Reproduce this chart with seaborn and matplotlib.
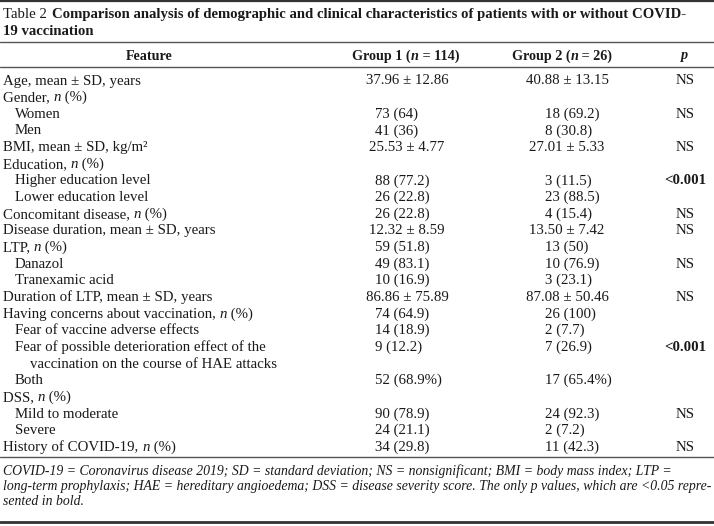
import matplotlib.pyplot as plt
import seaborn as sns

# table content ($...$ marks italic runs)
title_lead = "Table 2"
title_bold = ["Comparison analysis of demographic and clinical characteristics of patients with or without COVID-",
              "19 vaccination"]
headers = ["Feature", "Group 1 ($n$ = 114)", "Group 2 ($n$ = 26)", "$p$"]

features = [
    "Age, mean ± SD, years",
    "Gender, $n$ (%)",
    "Women",
    "Men",
    "BMI, mean ± SD, kg/m²",
    "Education, $n$ (%)",
    "Higher education level",
    "Lower education level",
    "Concomitant disease, $n$ (%)",
    "Disease duration, mean ± SD, years",
    "LTP, $n$ (%)",
    "Danazol",
    "Tranexamic acid",
    "Duration of LTP, mean ± SD, years",
    "Having concerns about vaccination, $n$ (%)",
    "Fear of vaccine adverse effects",
    "Fear of possible deterioration effect of the\nvaccination on the course of HAE attacks",
    "Both",
    "DSS, $n$ (%)",
    "Mild to moderate",
    "Severe",
    "History of COVID-19, $n$ (%)",
]
sub_item = [0, 0, 1, 1, 0, 0, 1, 1, 0, 0, 0, 1, 1, 0, 0, 1, 1, 1, 0, 1, 1, 0]
group1 = ["37.96 ± 12.86", "", "73 (64)", "41 (36)", "25.53 ± 4.77", "", "88 (77.2)", "26 (22.8)",
          "26 (22.8)", "12.32 ± 8.59", "59 (51.8)", "49 (83.1)", "10 (16.9)", "86.86 ± 75.89",
          "74 (64.9)", "14 (18.9)", "9 (12.2)", "52 (68.9%)", "", "90 (78.9)", "24 (21.1)", "34 (29.8)"]
group2 = ["40.88 ± 13.15", "", "18 (69.2)", "8 (30.8)", "27.01 ± 5.33", "", "3 (11.5)", "23 (88.5)",
          "4 (15.4)", "13.50 ± 7.42", "13 (50)", "10 (76.9)", "3 (23.1)", "87.08 ± 50.46",
          "26 (100)", "2 (7.7)", "7 (26.9)", "17 (65.4%)", "", "24 (92.3)", "2 (7.2)", "11 (42.3)"]
p_values = ["NS", "", "NS", "", "NS", "", "<0.001", "", "NS", "NS", "", "NS", "", "NS",
            "", "", "<0.001", "", "", "NS", "", "NS"]
footnote = ["COVID-19 = Coronavirus disease 2019; SD = standard deviation; NS = nonsignificant; BMI = body mass index; LTP =",
            "long-term prophylaxis; HAE = hereditary angioedema; DSS = disease severity score. The only p values, which are <0.05 repre-",
            "sented in bold."]

sns.set_theme(style="white", context="paper")
plt.rcParams["font.family"] = ["Liberation Serif", "DejaVu Serif"]

fig = plt.figure(figsize=(7.14, 5.26), dpi=100)
ax = fig.add_axes([0, 0, 1, 1])
ax.set_xlim(0, 714)
ax.set_ylim(526, 0)
ax.axis("off")
renderer = fig.canvas.get_renderer()
inv = ax.transData.inverted()


def width_of(t):
    bb = inv.transform(t.get_window_extent(renderer))
    return bb[1][0] - bb[0][0]


def rich_text(x, y, s, ha="left", **kw):
    # draw a string whose $...$ parts are italic, run after run
    runs = [(p, i % 2 == 1) for i, p in enumerate(s.split("$")) if p]
    texts = [ax.text(0, y, p, fontstyle="italic" if it else "normal", va="baseline", **kw)
             for p, it in runs]
    widths = [width_of(t) for t in texts]
    total = sum(widths)
    cx = x - total / 2 if ha == "center" else x
    for t, w in zip(texts, widths):
        t.set_x(cx)
        cx += w


fs = 10.7
ink = "#1a1a1a"

# caption
t = ax.text(3, 18, title_lead, fontsize=10.6, va="baseline", ha="left", color=ink)
ax.text(3 + width_of(t) + 5, 18, title_bold[0], fontsize=10.6, fontweight="bold", va="baseline", color=ink)
ax.text(3, 35, title_bold[1], fontsize=10.6, fontweight="bold", va="baseline", color=ink)

# rules
ax.axhline(1, color="#333333", lw=1.6)
ax.axhline(42, color="#555555", lw=1.0)
ax.axhline(67, color="#555555", lw=1.0)
ax.axhline(457, color="#555555", lw=1.0)
ax.axhline(522, color="#333333", lw=2.0)

# header
hy = 59.5
for hx, h in zip((149, 406, 562, 684), headers):
    rich_text(hx, hy, h, ha="center", fontsize=10.2, fontweight="bold", color=ink)

# body
step = 16.65
row = 0
for feat, lvl, g1, g2, p in zip(features, sub_item, group1, group2, p_values):
    y = 84.5 + step * row
    parts = feat.split("\n")
    for k, part in enumerate(parts):
        rich_text(3 + 12 * lvl + 15 * k, y + step * k, part, fontsize=fs, color=ink)
    for val, left, center in ((g1, 375, 407), (g2, 545, 567)):
        if "±" in val:
            ax.text(center, y, val, fontsize=fs, ha="center", va="baseline", color=ink)
        elif val:
            ax.text(left, y, val, fontsize=fs, ha="left", va="baseline", color=ink)
    if p:
        bold = p.startswith("<")
        ax.text(685, y, p, fontsize=fs, ha="center", va="baseline", color=ink,
                fontweight="bold" if bold else "normal")
    row += len(parts)

# footnote
for i, line in enumerate(footnote):
    ax.text(3, 474.5 + 15.3 * i, line, fontsize=9.9, fontstyle="italic", ha="left", va="baseline", color=ink)

fig.savefig("out.png", dpi=100)
